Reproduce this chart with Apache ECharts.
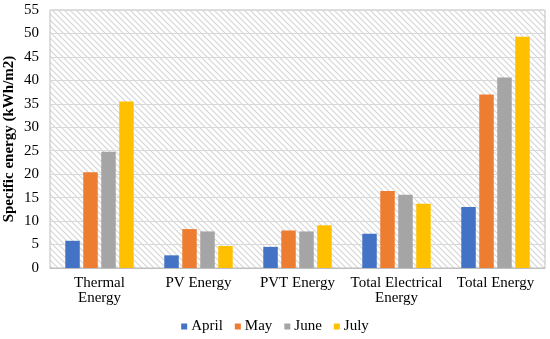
<!DOCTYPE html>
<html><head><meta charset="utf-8">
<script src="https://cdn.jsdelivr.net/npm/echarts@6/dist/echarts.min.js"></script>
<style>html,body{margin:0;padding:0;background:#fff}#c{width:550px;height:339px}</style>
</head><body><div id="c"></div>
<script>
const categories = ['Thermal\nEnergy', 'PV Energy', 'PVT Energy', 'Total Electrical\nEnergy', 'Total Energy'];
const april = [5.8, 2.7, 4.5, 7.3, 13.0];
const may = [20.4, 8.3, 8.0, 16.4, 37.0];
const june = [24.8, 7.8, 7.8, 15.6, 40.6];
const july = [35.5, 4.7, 9.1, 13.7, 49.3];
const seriesNames = ['April', 'May', 'June', 'July'];
const colors = ['#4472C4', '#ED7D31', '#A5A5A5', '#FFC000'];

const pc = document.createElement('canvas');
pc.width = 6; pc.height = 6;
const g = pc.getContext('2d');
g.fillStyle = '#ffffff'; g.fillRect(0, 0, 6, 6);
g.strokeStyle = '#d4d4d4'; g.lineWidth = 1.1;
g.beginPath();
g.moveTo(-1, -1); g.lineTo(7, 7);
g.moveTo(-7, -1); g.lineTo(1, 7);
g.moveTo(5, -1); g.lineTo(13, 7);
g.stroke();

const chart = echarts.init(document.getElementById('c'));
const font = 'Liberation Serif';
const data = [april, may, june, july];
chart.setOption({
  animation: false,
  textStyle: { fontFamily: font },
  color: colors,
  grid: { left: 50, right: 5, top: 10, bottom: 71, show: true, containLabel: false, outerBoundsMode: 'none',
    backgroundColor: { image: pc, repeat: 'repeat' }, borderColor: '#bfbfbf', borderWidth: 1 },
  legend: { top: 319, left: 'center', padding: 0, itemWidth: 6, itemHeight: 6, itemGap: 12,
    icon: 'rect', textStyle: { fontFamily: font, fontSize: 15, color: '#000', padding: [0, 0, 0, -1] } },
  xAxis: { type: 'category', data: categories,
    axisLine: { lineStyle: { color: '#bfbfbf' } }, axisTick: { show: false },
    axisLabel: { fontFamily: font, fontSize: 15, color: '#000', lineHeight: 15, margin: 8, interval: 0 } },
  yAxis: { type: 'value', min: 0, max: 55, interval: 5,
    name: 'Specific energy (kWh/m2)', nameLocation: 'middle', nameGap: 33, nameMoveOverlap: false,
    nameTextStyle: { fontFamily: font, fontSize: 15, fontWeight: 'bold', color: '#000' },
    axisLine: { show: false }, axisTick: { show: false },
    axisLabel: { fontFamily: font, fontSize: 15, color: '#000', margin: 11 },
    splitLine: { lineStyle: { color: '#d9d9d9', width: 1 } } },
  series: seriesNames.map((n, i) => ({
    name: n, type: 'bar', data: data[i], barWidth: 14.5, barGap: '24%'
  }))
});
</script></body></html>
